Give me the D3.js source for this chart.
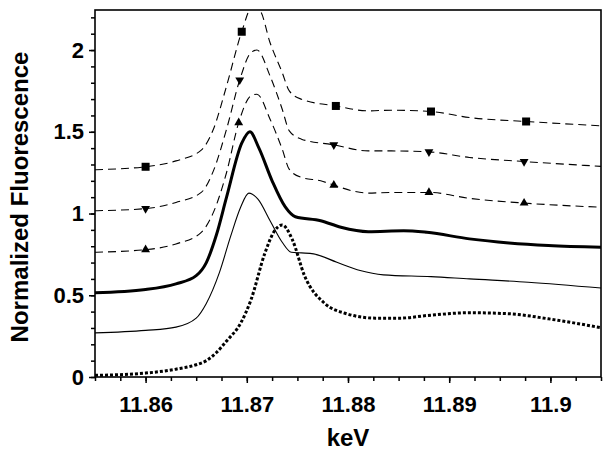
<!DOCTYPE html>
<html lang="en">
<head>
<meta charset="utf-8">
<title>Normalized Fluorescence</title>
<script src="https://d3js.org/d3.v7.min.js"></script>
<style>
  body { margin: 0; background: #fff; }
  .tick text { font-family: "Liberation Sans", Arial, sans-serif; font-weight: bold; font-size: 22px; }
  .axis-title { font-family: "Liberation Sans", Arial, sans-serif; font-weight: bold; font-size: 24px; }
</style>
</head>
<body>
<script>
// values (keV, normalized fluorescence)
const thick = [[11.855,0.515],[11.86,0.535],[11.863,0.57],[11.865,0.62],[11.866,0.70],[11.867,0.87],[11.868,1.1],[11.8695,1.43],[11.8703,1.50],[11.8712,1.40],[11.8725,1.2],[11.8738,1.04],[11.8748,0.98],[11.8773,0.956],[11.8793,0.916],[11.882,0.889],[11.8855,0.895],[11.8878,0.885],[11.892,0.845],[11.8959,0.82],[11.8998,0.804],[11.9052,0.793]];
const thin = [[11.855,0.27],[11.86,0.285],[11.863,0.305],[11.865,0.36],[11.866,0.45],[11.8673,0.64],[11.8684,0.86],[11.8694,1.04],[11.8702,1.125],[11.8711,1.088],[11.8723,0.956],[11.8735,0.824],[11.8744,0.763],[11.8754,0.759],[11.8766,0.753],[11.8789,0.702],[11.8812,0.651],[11.8835,0.625],[11.8882,0.614],[11.892,0.6],[11.8978,0.58],[11.9052,0.543]];
const dotted = [[11.855,0.01],[11.86,0.024],[11.863,0.048],[11.865,0.075],[11.866,0.10],[11.867,0.15],[11.868,0.22],[11.8694,0.33],[11.8704,0.47],[11.8718,0.76],[11.8727,0.89],[11.8735,0.93],[11.8745,0.84],[11.8757,0.62],[11.8777,0.45],[11.8797,0.39],[11.8827,0.36],[11.8851,0.36],[11.8878,0.376],[11.892,0.393],[11.8959,0.387],[11.8998,0.356],[11.9052,0.299]];
const dashUp = [[11.855,0.763],[11.86,0.779],[11.863,0.814],[11.8655,0.885],[11.8667,1.007],[11.868,1.251],[11.8692,1.556],[11.8704,1.72],[11.871,1.73],[11.8723,1.577],[11.8735,1.394],[11.8742,1.27],[11.8754,1.221],[11.8773,1.2],[11.8786,1.174],[11.8804,1.139],[11.882,1.125],[11.8843,1.129],[11.888,1.129],[11.892,1.093],[11.8974,1.064],[11.9052,1.038]];
const dashDown = [[11.855,1.017],[11.86,1.03],[11.863,1.068],[11.8655,1.129],[11.8667,1.261],[11.868,1.516],[11.8693,1.817],[11.8704,1.984],[11.871,2.0],[11.8723,1.841],[11.8735,1.638],[11.8742,1.506],[11.8754,1.455],[11.8786,1.42],[11.882,1.383],[11.8843,1.383],[11.888,1.377],[11.892,1.343],[11.8974,1.318],[11.9052,1.288]];
const dashSquare = [[11.855,1.268],[11.86,1.286],[11.863,1.322],[11.8655,1.388],[11.8667,1.516],[11.868,1.78],[11.8695,2.112],[11.8705,2.26],[11.8713,2.24],[11.8723,2.045],[11.8735,1.862],[11.8742,1.75],[11.8754,1.699],[11.8788,1.658],[11.882,1.628],[11.8843,1.632],[11.8882,1.624],[11.892,1.587],[11.8976,1.563],[11.9052,1.536]];
const markUp = [[11.86,0.779],[11.8692,1.556],[11.8786,1.174],[11.888,1.129],[11.8974,1.064]];
const markDown = [[11.86,1.03],[11.8693,1.817],[11.8786,1.42],[11.888,1.377],[11.8974,1.318]];
const markSquare = [[11.86,1.286],[11.8695,2.112],[11.8788,1.658],[11.8882,1.624],[11.8976,1.563]];
const xTicks = [11.86, 11.87, 11.88, 11.89, 11.9];
const yTicks = [0, 0.5, 1, 1.5, 2];

const W = 612, H = 457;
const m = {top: 10, right: 11, bottom: 80, left: 95};
const svg = d3.select("body").append("svg").attr("width", W).attr("height", H);

const x = d3.scaleLinear().domain([11.855, 11.905]).range([m.left, W - m.right]);
const y = d3.scaleLinear().domain([0, 2.245]).range([H - m.bottom, m.top]);

svg.append("clipPath").attr("id", "clip").append("rect")
  .attr("x", m.left).attr("y", m.top)
  .attr("width", W - m.left - m.right).attr("height", H - m.top - m.bottom);

const plot = svg.append("g").attr("clip-path", "url(#clip)");
const line = d3.line().x(d => x(d[0])).y(d => y(d[1])).curve(d3.curveMonotoneX);

function drawLine(data, width, dash) {
  plot.append("path").datum(data)
    .attr("fill", "none").attr("stroke", "#000")
    .attr("stroke-width", width)
    .attr("stroke-dasharray", dash)
    .attr("d", line);
}
drawLine(dashSquare, 1.1, "8,5");
drawLine(dashDown, 1.1, "8,5");
drawLine(dashUp, 1.1, "8,5");
drawLine(thick, 3, null);
drawLine(thin, 1.1, null);
drawLine(dotted, 3, "3,2");

plot.selectAll(".sq").data(markSquare).enter().append("rect")
  .attr("x", d => x(d[0]) - 4).attr("y", d => y(d[1]) - 4)
  .attr("width", 8).attr("height", 8).attr("fill", "#000");
const tri = d3.symbol().type(d3.symbolTriangle).size(34);
plot.selectAll(".up").data(markUp).enter().append("path")
  .attr("d", tri).attr("fill", "#000")
  .attr("transform", d => `translate(${x(d[0])},${y(d[1])})`);
plot.selectAll(".dn").data(markDown).enter().append("path")
  .attr("d", tri).attr("fill", "#000")
  .attr("transform", d => `translate(${x(d[0])},${y(d[1])}) rotate(180)`);

// axes: minor ticks first, then labelled majors
const xMinor = d3.range(11.855, 11.9051, 0.0025);
const yMinor = d3.range(0, 2.25, 0.1);
svg.append("g").attr("transform", `translate(0,${H - m.bottom})`)
  .call(d3.axisBottom(x).tickValues(xMinor).tickSize(4).tickFormat(""))
  .call(g => g.select(".domain").remove());
svg.append("g").attr("transform", `translate(${m.left},0)`)
  .call(d3.axisLeft(y).tickValues(yMinor).tickSize(4).tickFormat(""))
  .call(g => g.select(".domain").remove());

svg.append("g").attr("transform", `translate(0,${H - m.bottom})`)
  .call(d3.axisBottom(x).tickValues(xTicks).tickSize(6).tickPadding(13).tickFormat(d3.format("~g")))
  .call(g => g.select(".domain").remove());
svg.append("g").attr("transform", `translate(${m.left},0)`)
  .call(d3.axisLeft(y).tickValues(yTicks).tickSize(6).tickPadding(5).tickFormat(d3.format("~g")))
  .call(g => g.select(".domain").remove());
svg.selectAll(".tick line").attr("stroke-width", 1.5);
svg.selectAll(".tick text").attr("fill", "#000");

svg.append("rect")
  .attr("x", m.left).attr("y", m.top)
  .attr("width", W - m.left - m.right).attr("height", H - m.top - m.bottom)
  .attr("fill", "none").attr("stroke", "#000").attr("stroke-width", 1.6);

svg.append("text").attr("class", "axis-title")
  .attr("x", (m.left + W - m.right) / 2).attr("y", 446)
  .attr("text-anchor", "middle").text("keV");
svg.append("text").attr("class", "axis-title")
  .attr("transform", "translate(28,197) rotate(-90)")
  .attr("text-anchor", "middle").text("Normalized Fluorescence");
</script>
</body>
</html>
